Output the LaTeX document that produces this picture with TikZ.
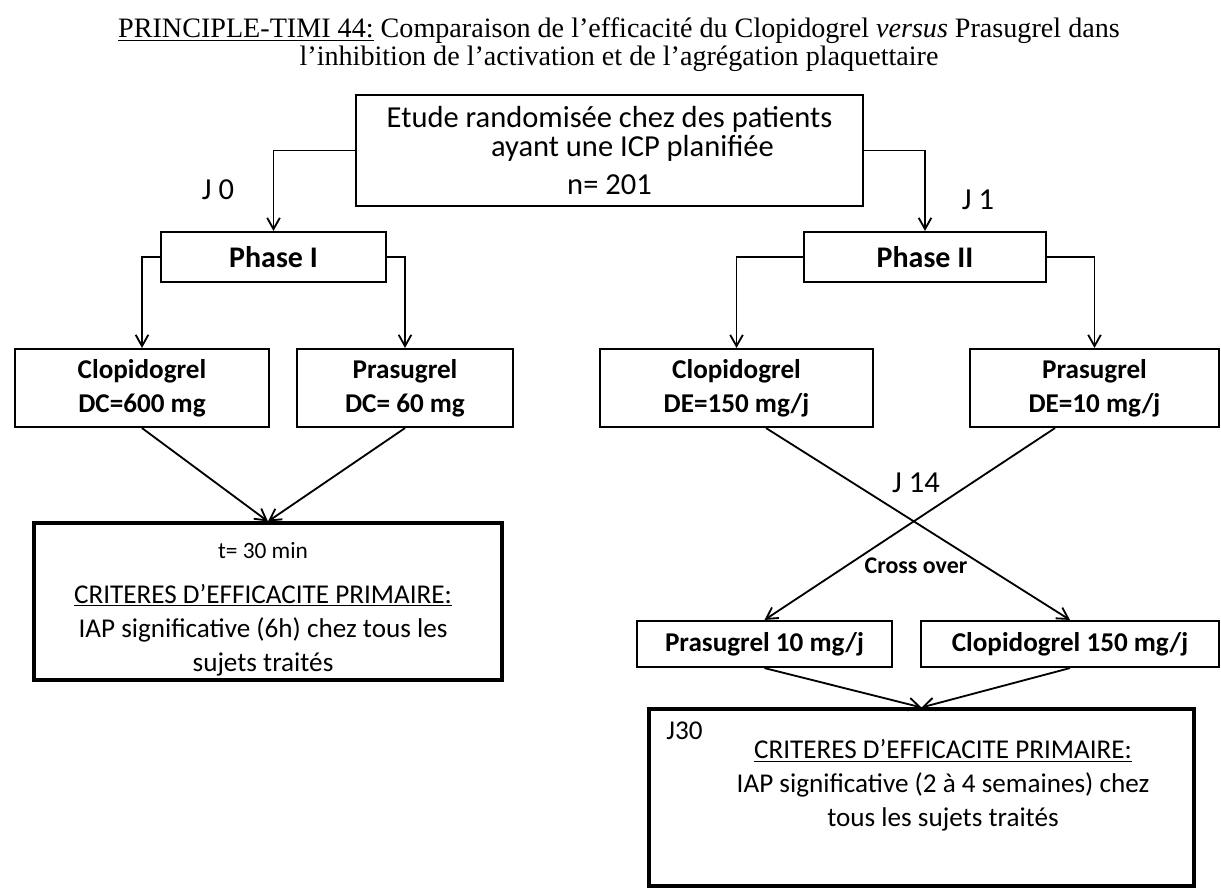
\documentclass[tikz,border=0pt]{standalone}
\usepackage{fontspec}
\setmainfont{Carlito}
\newfontfamily\titlefont{Liberation Serif}
\usetikzlibrary{arrows.meta, calc}
\newlength{\pu}
\setlength{\pu}{0.025cm}

\begin{document}
\begin{tikzpicture}[
x=0.025cm, y=-0.025cm,
% boxes
box/.style={draw, line width=1.5pt, rectangle, inner sep=0, align=center},
phasebox/.style={box, minimum height=50\pu, font=\fontsize{21.3}{25}\selectfont\bfseries},
dosebox/.style={box, minimum height=78\pu, font=\fontsize{19.3}{24.2}\selectfont\bfseries},
switchbox/.style={box, minimum height=46\pu, font=\fontsize{19.3}{24.2}\selectfont\bfseries},
resultbox/.style={box, line width=2.2pt},
% connectors
arr/.style={line width=1.3pt, -{Straight Barb[length=8pt, width=9pt]}},
% annotations
annot/.style={font=\fontsize{21.7}{26}\selectfont, inner sep=0},
smallannot/.style={annot, font=\fontsize{17}{20}\selectfont\bfseries},
critannot/.style={align=center, inner sep=0, font=\fontsize{19.3}{24.2}\selectfont},
titleannot/.style={align=center, inner sep=0, font=\titlefont\fontsize{20}{19.9}\selectfont}
]

\useasboundingbox (0,0) rectangle (1221,888);

% HORIZONTAL COORDINATES

\coordinate (xstart) at (609.5,0); % randomisation
\coordinate (xphI) at (273.5,0); % phase I and its arms
\coordinate (xclI) at (142,0);
\coordinate (xprI) at (405,0);
\coordinate (xresI) at (268,0);
\coordinate (xphII) at (925,0); % phase II and its arms
\coordinate (xclII) at (736.5,0);
\coordinate (xprII) at (1094.5,0);
\coordinate (xprIII) at (764.5,0); % arms after the cross over
\coordinate (xclIII) at (1070,0);
\coordinate (xresII) at (921.5,0);

% VERTICAL COORDINATES

\coordinate (ytitle) at (0,45);
\coordinate (ystart) at (0,150.5);
\coordinate (yphase) at (0,257);
\coordinate (ydose) at (0,388);
\coordinate (yresI) at (0,601.5);
\coordinate (yswitch) at (0,644);
\coordinate (yresII) at (0,797.5);


% TITLE
\node[titleannot] (title) at (619,0|-ytitle) {\underline{PRINCIPLE-TIMI 44:} Comparaison de l’efficacité du Clopidogrel \textit{versus} Prasugrel dans\\ l’inhibition de l’activation et de l’agrégation plaquettaire};

% RANDOMISATION
\node[box, minimum width=507\pu, minimum height=111\pu, font=\fontsize{21.7}{20.6}\selectfont] (start) at (xstart|-ystart) {Etude randomisée chez des patients\\ \hspace*{46\pu}ayant une ICP planifiée\\[7pt] n= 201};

% PHASE I
\node[phasebox, minimum width=225\pu] (phI) at (xphI|-yphase) {Phase I};
\node[dosebox, minimum width=254\pu] (clI) at (xclI|-ydose) {Clopidogrel\\ DC=600 mg};
\node[dosebox, minimum width=216\pu] (prI) at (xprI|-ydose) {Prasugrel\\ DC= 60 mg};
\node[resultbox, minimum width=468\pu, minimum height=157\pu] (resI) at (xresI|-yresI) {};
\path
(resI.center) ++(-5,8) node[critannot] (critI) {{\fontsize{16.6}{20}\selectfont t= 30 min}\\[7.5pt] \underline{CRITERES D’EFFICACITE PRIMAIRE:}\\ IAP significative (6h) chez tous les\\ sujets traités}
;

% PHASE II
\node[phasebox, minimum width=242\pu] (phII) at (xphII|-yphase) {Phase II};
\node[dosebox, minimum width=273\pu] (clII) at (xclII|-ydose) {Clopidogrel\\ DE=150 mg/j};
\node[dosebox, minimum width=249\pu] (prII) at (xprII|-ydose) {Prasugrel\\ DE=10 mg/j};
\node[switchbox, minimum width=255\pu] (prIII) at (xprIII|-yswitch) {Prasugrel 10 mg/j};
\node[switchbox, minimum width=298\pu] (clIII) at (xclIII|-yswitch) {Clopidogrel 150 mg/j};
\node[resultbox, minimum width=545\pu, minimum height=177\pu] (resII) at (xresII|-yresII) {};
\path
(resII.north west) ++(37,23) node[annot, font=\fontsize{19.3}{24}\selectfont] (J30) {J30}
(resII.center) ++(21.5,-12) node[critannot] (critII) {\underline{CRITERES D’EFFICACITE PRIMAIRE:}\\ IAP significative (2 à 4 semaines) chez\\ tous les sujets traités}
;

% days
\path
(218,190) node[annot] (J0) {J 0}
(978,200) node[annot] (J1) {J 1}
(916,483) node[annot] (J14) {J 14}
(916,566) node[smallannot] (cross) {Cross over}
;

% CONNECTORS
\draw[arr] (start.west) -| (phI.north);
\draw[arr] (start.east) -| (phII.north);
\draw[arr] (phI.west) -| (clI.north);
\draw[arr] (phI.east) -| (prI.north);
\draw[arr] (phII.west) -| (clII.north);
\draw[arr] (phII.east) -| (prII.north);
\draw[arr] (clI.south) -- (resI.north);
\draw[arr] (prI.south) -- (resI.north);
\draw[arr] ($(clII.south)+(29.5,0)$) -- (clIII.north);
\draw[arr] ($(prII.south)+(-39.5,0)$) -- (prIII.north);
\draw[arr] (prIII.south) -- (resII.north);
\draw[arr] (clIII.south) -- (resII.north);

\end{tikzpicture}
\end{document}
